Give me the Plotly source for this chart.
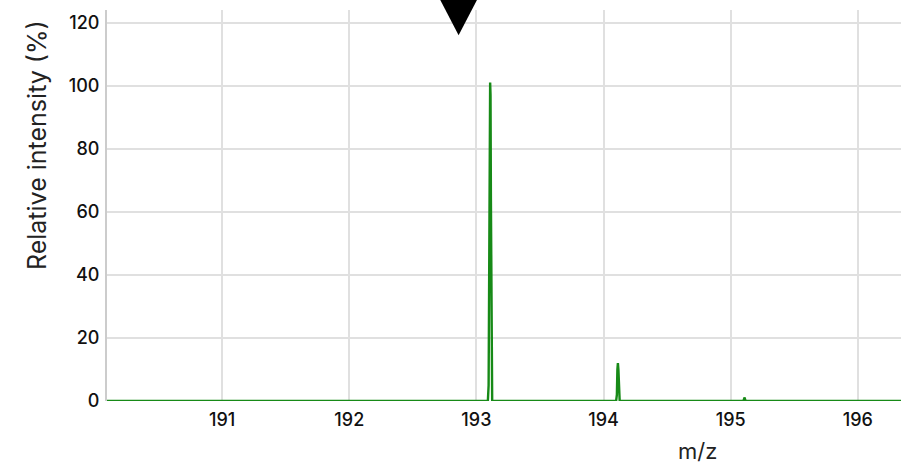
import plotly.graph_objects as go

# Profile spectrum (m/z vs relative intensity in %)
mz = [190.09, 193.090, 193.096, 193.101, 193.105, 193.108, 193.111, 193.114, 193.118, 193.124,
      194.099, 194.105, 194.109, 194.113, 194.117, 194.121, 194.127,
      195.100, 195.106, 195.110, 195.114, 195.120, 196.34]
intensity = [0, 0, 5, 34, 88, 101, 97, 64, 14, 0,
             0, 2, 10, 12, 10, 2, 0,
             0, 0.4, 1.1, 0.4, 0, 0]

# Marked precursor position
marker_mz = 192.86
marker_level = 116

x_ticks = [191, 192, 193, 194, 195, 196]
y_ticks = [0, 20, 40, 60, 80, 100, 120]
y_max = 124

GREEN = "#178a17"
GRID = "#e0e0e0"
FONT = "Inter, Roboto, sans-serif"

fig = go.Figure()
fig.add_trace(go.Scatter(
    x=mz, y=intensity, mode="lines",
    line=dict(color=GREEN, width=2.4),
    hoverinfo="skip", showlegend=False,
))

# Downward triangle marker, allowed to run past the top of the plot
fig.add_shape(
    type="path", xref="x", yref="paper",
    xsizemode="pixel", ysizemode="pixel",
    xanchor=marker_mz, yanchor=marker_level / y_max,
    path="M0,0 L-25,48 L25,48 Z",
    fillcolor="black", line=dict(width=0),
    layer="above",
)

fig.update_layout(
    width=908, height=467,
    margin=dict(l=107, r=7, t=10, b=66),
    plot_bgcolor="white", paper_bgcolor="white",
    font=dict(family=FONT, color="#111111"),
    xaxis=dict(
        range=[190.094, 196.34],
        tickvals=x_ticks, ticktext=[str(t) for t in x_ticks],
        showgrid=True, gridcolor=GRID, gridwidth=2,
        zeroline=False, showline=False, ticks="",
        tickfont=dict(size=18, family=FONT, weight=500),
        ticklabelstandoff=6,
    ),
    yaxis=dict(
        range=[0, y_max],
        tickvals=y_ticks,
        showgrid=True, gridcolor=GRID, gridwidth=2,
        zeroline=False, showline=True, linecolor="#cccccc", linewidth=2,
        ticks="", tickfont=dict(size=18, family=FONT, weight=500),
        ticklabelstandoff=2,
    ),
    annotations=[
        dict(text="Relative intensity (%)", textangle=-90,
             xref="paper", yref="paper", x=-0.088, y=0.655,
             xanchor="center", yanchor="middle", showarrow=False,
             font=dict(size=25, family=FONT, color="#222222")),
        dict(text="m/z", xref="paper", yref="paper", x=0.744, y=-0.128,
             xanchor="center", yanchor="middle", showarrow=False,
             font=dict(size=22, family=FONT, color="#222222")),
    ],
)

fig.write_html("out.html")
